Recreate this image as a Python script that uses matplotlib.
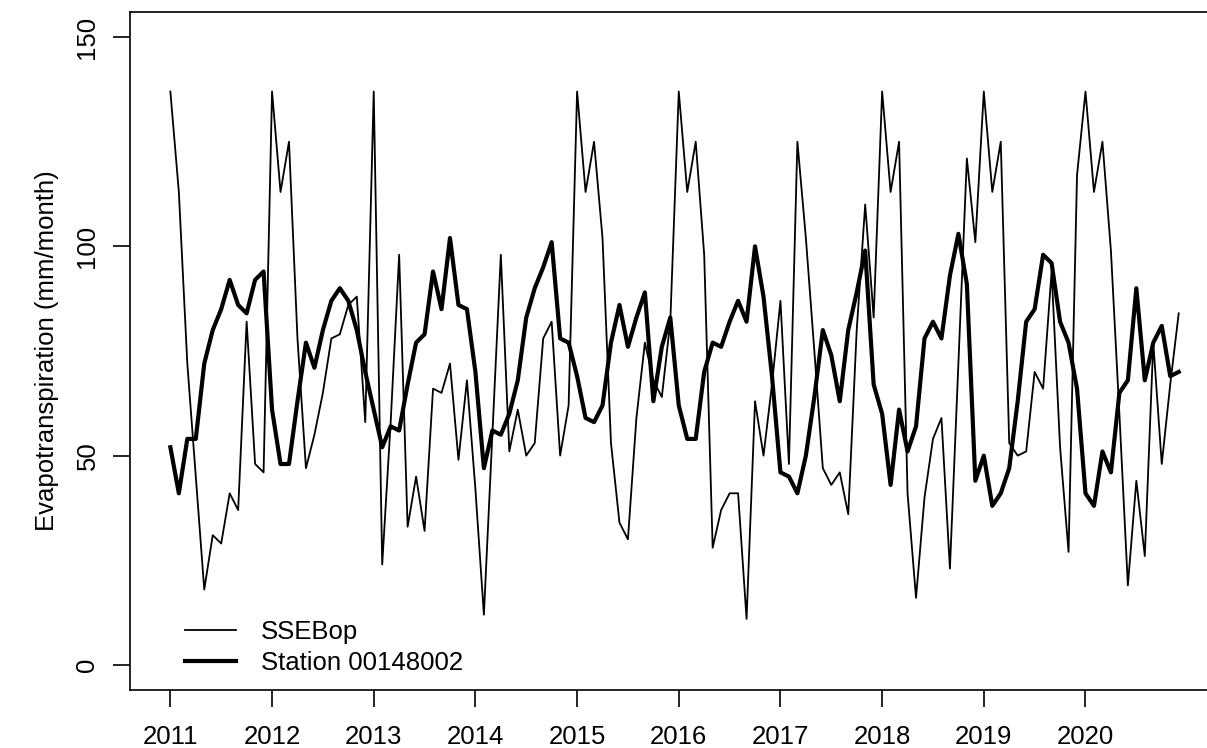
import numpy as np
import pandas as pd
import matplotlib
matplotlib.use('Agg')
import matplotlib.pyplot as plt

# monthly ET, Jan 2011 .. Dec 2020 (mm/month)
sseb = [137, 113, 72, 45, 18, 31, 29, 41, 37, 82, 48, 46,
        137, 113, 125, 78, 47, 55, 65, 78, 79, 86, 88, 58,
        137, 24, 58, 98, 33, 45, 32, 66, 65, 72, 49, 68,
        42, 12, 55, 98, 51, 61, 50, 53, 78, 82, 50, 62,
        137, 113, 125, 102, 53, 34, 30, 59, 77, 68, 64, 82,
        137, 113, 125, 98, 28, 37, 41, 41, 11, 63, 50, 67,
        87, 48, 125, 102, 75, 47, 43, 46, 36, 80, 110, 83,
        137, 113, 125, 41, 16, 40, 54, 59, 23, 72, 121, 101,
        137, 113, 125, 53, 50, 51, 70, 66, 94, 52, 27, 117,
        137, 113, 125, 99, 60, 19, 44, 26, 77, 48, 67, 84]
station = [52, 41, 54, 54, 72, 80, 85, 92, 86, 84, 92, 94,
           61, 48, 48, 63, 77, 71, 80, 87, 90, 87, 80, 70,
           61, 52, 57, 56, 67, 77, 79, 94, 85, 102, 86, 85,
           70, 47, 56, 55, 60, 68, 83, 90, 95, 101, 78, 77,
           69, 59, 58, 62, 77, 86, 76, 83, 89, 63, 76, 83,
           62, 54, 54, 70, 77, 76, 82, 87, 82, 100, 88, 69,
           46, 45, 41, 50, 64, 80, 74, 63, 80, 89, 99, 67,
           60, 43, 61, 51, 57, 78, 82, 78, 93, 103, 91, 44,
           50, 38, 41, 47, 63, 82, 85, 98, 96, 82, 77, 66,
           41, 38, 51, 46, 65, 68, 90, 68, 77, 81, 69, 70]
years = list(range(2011, 2021))

dates = pd.date_range('2011-01-01', periods=len(sseb), freq='MS')
t = dates.year + (dates.month - 1) / 12.0

plt.rcParams['font.family'] = ['Liberation Sans', 'DejaVu Sans']
fig = plt.figure(figsize=(12.07, 7.48), dpi=100)
ax = fig.add_axes([130 / 1207, 58 / 748, 1089 / 1207, 678 / 748])

ax.plot(t, sseb, color='black', linewidth=1.3, label='SSEBop')
ax.plot(t, station, color='black', linewidth=3.0, label='Station 00148002')

ax.set_xlim(2010.603, 2021.313)
ax.set_ylim(-6, 156)
ax.set_xticks(years)
ax.set_xticklabels([str(y) for y in years])
ax.set_yticks([0, 50, 100, 150])
ax.set_yticklabels(['0', '50', '100', '150'], rotation=90, va='center')
ax.tick_params(axis='both', direction='out', length=12, width=1.2,
               labelsize=18.5, colors='black')
ax.tick_params(axis='x', pad=13)
ax.tick_params(axis='y', pad=10)
for s in ax.spines.values():
    s.set_linewidth(1.2)
ax.set_ylabel('Evapotranspiration (mm/month)', fontsize=18.5, labelpad=12)

ax.legend(loc='lower left', bbox_to_anchor=(0.034, -0.004), frameon=False,
          fontsize=18.5, handlelength=2.0, handletextpad=0.95,
          labelspacing=0.28, borderpad=0.2)

plt.savefig('out.png', dpi=100)
